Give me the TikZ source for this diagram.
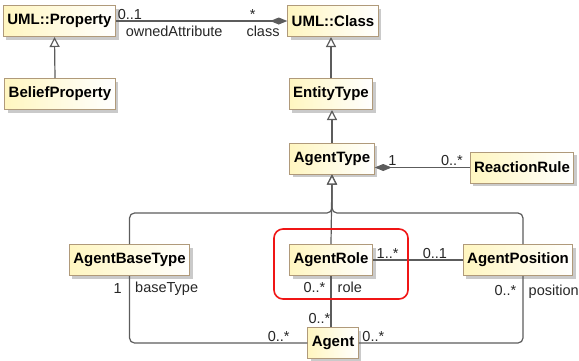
\documentclass[tikz,border=0pt]{standalone}
\usepackage{fontspec}
\setmainfont{Liberation Sans}
\usepackage{tikz}
\usetikzlibrary{arrows.meta,shadows}
\definecolor{clsfill}{HTML}{FFF6C0}
\definecolor{clsline}{HTML}{B09A7A}
\definecolor{edgegray}{HTML}{5C5C5C}
\definecolor{roleRed}{HTML}{F01515}

\begin{document}
\begin{tikzpicture}[
	x=1pt,y=-1pt,
	cls/.style={draw=clsline,line width=1pt,left color=clsfill,right color=white,
		minimum height=31pt,inner xsep=4pt,font=\fontsize{15}{17}\selectfont\bfseries,
		drop shadow={shadow xshift=3pt,shadow yshift=-3pt,fill=black!35,opacity=.6}},
	lbl/.style={inner sep=1.5pt,font=\fontsize{14.5}{16}\selectfont,text=black!85},
	assoc/.style={draw=edgegray,line width=1.2pt},
	gen/.style={assoc,-{Triangle[open,length=10pt,width=10pt,fill=white]},rounded corners=5pt},
	comp/.style={assoc,{Diamond[length=17pt,width=7pt]}-}]
	\useasboundingbox (0,0) rectangle (579,360);
	% classes
	\node[cls] (prop) at (59.5,21) {UML::Property};
	\node[cls] (belief) at (60,94) {BeliefProperty};
	\node[cls] (class) at (333,21) {UML::Class};
	\node[cls] (entity) at (331,94) {EntityType};
	\node[cls] (agenttype) at (332,158.5) {AgentType};
	\node[cls] (reaction) at (522,167.5) {ReactionRule};
	\node[cls] (basetype) at (129.5,260) {AgentBaseType};
	\node[cls] (role) at (331,260) {AgentRole};
	\node[cls] (position) at (518,260) {AgentPosition};
	\node[cls] (agent) at (333,343) {Agent};
	% generalizations
	\draw[gen] ([xshift=-5pt]belief.north) -- ([xshift=-5pt]prop.south);
	\draw[gen] (entity.north) -- (entity.north |- class.south);
	\draw[gen] (agenttype.north) -- (agenttype.north |- entity.south);
	\coordinate (fork) at (agenttype.south |- 0,213);
	\draw[gen] (basetype.north) |- (fork) -- (agenttype.south);
	\draw[gen] ([xshift=5pt]position.north) |- (fork) -- (agenttype.south);
	\draw[gen] (role.north) -- (agenttype.south);
	% associations
	\draw[comp] (class.west) -- (prop.east);
	\coordinate (rrend) at (agenttype.east |- reaction.west);
	\draw[comp] (rrend) -- (reaction.west);
	\draw[assoc] (role.east) -- (position.west);
	\draw[assoc] (role.south) -- (role.south |- agent.north);
	\draw[assoc,rounded corners=5pt] (basetype.south) |- (agent.west);
	\draw[assoc,rounded corners=5pt] ([xshift=5pt]position.south) |- (agent.east);
	% role ends
	\node[lbl,anchor=south west] (m1) at (prop.east) {0..1};
	\node[lbl,anchor=north west] (r1) at ([xshift=8pt,yshift=-3pt]prop.east) {ownedAttribute};
	\node[lbl,anchor=south east] (m2) at ([xshift=-30pt]class.west) {*};
	\node[lbl,anchor=north east] (r2) at ([xshift=-6pt,yshift=-3pt]class.west) {class};
	\node[lbl,anchor=south west] (m3) at ([xshift=12pt]rrend) {1};
	\node[lbl,anchor=south east] (m4) at ([xshift=-5pt]reaction.west) {0..*};
	\node[lbl,anchor=south west] (m5) at ([xshift=2pt]role.east) {1..*};
	\node[lbl,anchor=south east] (m6) at ([xshift=-14pt]position.west) {0..1};
	\node[lbl,anchor=north east] (m7) at ([xshift=-4pt,yshift=-5pt]role.south) {0..*};
	\node[lbl,anchor=north west] (r3) at ([xshift=5pt,yshift=-4pt]role.south) {role};
	\node[lbl,anchor=south east] (m8) at ([xshift=-1pt,yshift=2pt]agent.north) {0..*};
	\node[lbl,anchor=south east] (m9) at ([xshift=-16pt]agent.west) {0..*};
	\node[lbl,anchor=south west] (m10) at ([xshift=2pt]agent.east) {0..*};
	\node[lbl,anchor=north east] (m11) at ([xshift=-6pt,yshift=-6pt]basetype.south) {1};
	\node[lbl,anchor=north west] (r4) at ([xshift=4pt,yshift=-4pt]basetype.south) {baseType};
	\node[lbl,anchor=north east] (m12) at ([yshift=-8pt]position.south) {0..*};
	\node[lbl,anchor=north west] (r5) at ([xshift=9pt,yshift=-7pt]position.south) {position};
	% highlight
	\draw[draw=roleRed,line width=1.6pt,rounded corners=9pt]
		([shift={(-15,-15)}]role.north west) rectangle ([shift={(35,23)}]role.south east);
\end{tikzpicture}
\end{document}
